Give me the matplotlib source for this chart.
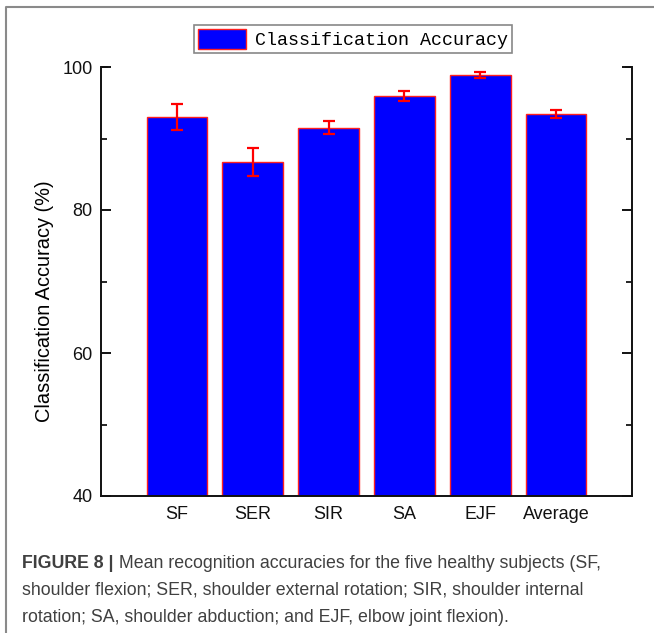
import matplotlib
matplotlib.use("Agg")
import matplotlib.pyplot as plt
from matplotlib.lines import Line2D
from matplotlib.ticker import MultipleLocator

# Mean accuracy and spread per movement
categories = ["SF", "SER", "SIR", "SA", "EJF", "Average"]
accuracy = [93.0, 86.7, 91.5, 96.0, 98.9, 93.4]
accuracy_err = [1.8, 2.0, 0.9, 0.7, 0.4, 0.6]

caption_bold = "FIGURE 8 |"
caption_lines = [
    " Mean recognition accuracies for the five healthy subjects (SF,",
    "shoulder flexion; SER, shoulder external rotation; SIR, shoulder internal",
    "rotation; SA, shoulder abduction; and EJF, elbow joint flexion).",
]

W, H = 654, 633
fig = plt.figure(figsize=(W / 100, H / 100), dpi=100)
fig.patch.set_facecolor("white")

ax = fig.add_axes([101 / W, 1 - 496 / H, 531 / W, 429 / H])
x = list(range(1, len(categories) + 1))
bars = ax.bar(x, accuracy, width=0.8, color="#0000ff", edgecolor="#ff2020",
              linewidth=1.0, label="Classification Accuracy", zorder=2)
ax.errorbar(x, accuracy, yerr=accuracy_err, fmt="none", ecolor="#ff0000",
            elinewidth=1.6, capsize=4, capthick=1.6, zorder=3)

ax.set_xlim(0, 7)
ax.set_ylim(40, 100)
ax.set_xticks(x)
ax.set_xticklabels(categories, family="Liberation Sans", fontsize=13)
ax.yaxis.set_major_locator(MultipleLocator(20))
ax.yaxis.set_minor_locator(MultipleLocator(10))
for lab in ax.get_yticklabels():
    lab.set_family("Liberation Sans")
    lab.set_fontsize(13)
ax.set_ylabel("Classification Accuracy (%)", family="Liberation Sans",
              fontsize=14.4)
ax.yaxis.set_label_coords(-0.088, 0.455)

ax.spines["top"].set_visible(False)
for s in ("left", "right", "bottom"):
    ax.spines[s].set_linewidth(1.4)
    ax.spines[s].set_color("#111111")
ax.tick_params(axis="both", which="major", direction="in", length=7,
               width=1.4, right=True, pad=6, colors="#111111")
ax.tick_params(axis="y", which="minor", direction="in", length=4,
               width=1.2, right=True)
ax.tick_params(axis="x", pad=7)

# spine hooks at the top of both y axes
ax.plot([0, 0.09], [100, 100], color="#111111", lw=1.4, clip_on=False,
        solid_capstyle="butt")
ax.plot([6.91, 7], [100, 100], color="#111111", lw=1.4, clip_on=False,
        solid_capstyle="butt")

leg = fig.legend(handles=[bars], labels=["Classification Accuracy"],
                 loc="center", bbox_to_anchor=(353 / W, 1 - 39 / H),
                 fancybox=False, edgecolor="#888888", framealpha=1,
                 prop={"family": "Liberation Mono", "size": 13.2},
                 handlelength=2.6, handleheight=1.3, borderpad=0.2,
                 handletextpad=0.5)
leg.get_frame().set_linewidth(1.2)

# outer figure frame
fig.add_artist(Line2D([6 / W, 6 / W, 1.0], [0.0, 1 - 7 / H, 1 - 7 / H],
                      transform=fig.transFigure, color="#8a8a8a", lw=1.5))

# caption with bold lead
cap_font = "Liberation Sans"
cap_size = 12.8
cap_color = "#404040"
y0 = 1 - 563 / H
step = 27 / H
t = fig.text(22 / W, y0, caption_bold, family=cap_font, fontsize=cap_size,
             weight="bold", color=cap_color, va="center")
fig.canvas.draw()
bb = t.get_window_extent(renderer=fig.canvas.get_renderer())
fig.text(bb.x1 / W, y0, caption_lines[0], family=cap_font, fontsize=cap_size,
         color=cap_color, va="center")
for i, line in enumerate(caption_lines[1:], start=1):
    fig.text(22 / W, y0 - i * step, line, family=cap_font, fontsize=cap_size,
             color=cap_color, va="center")

fig.savefig("out.png", dpi=100)
